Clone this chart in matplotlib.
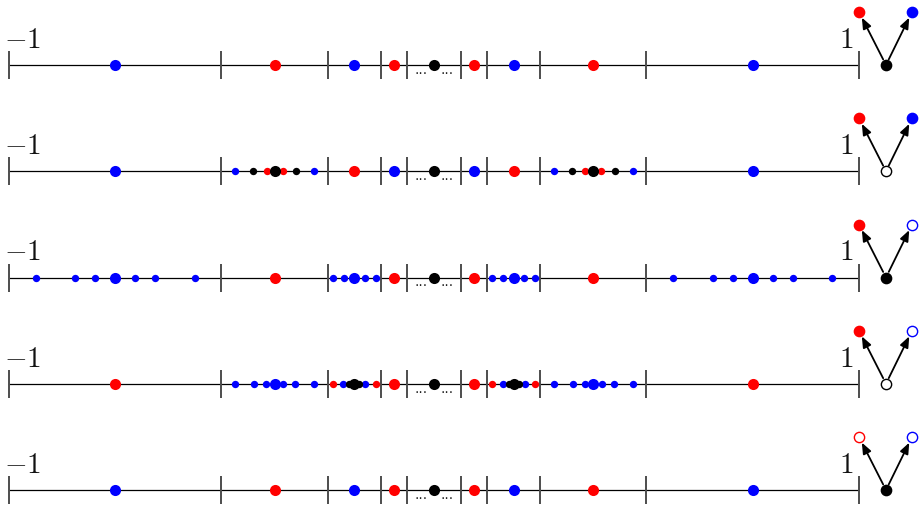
import matplotlib
matplotlib.use("Agg")
import matplotlib.pyplot as plt

plt.rcParams['mathtext.fontset'] = 'cm'

# ---- data ----
ticks = [-1.0, -0.5, -0.25, -0.125, -0.0625, 0.0625, 0.125, 0.25, 0.5, 1.0]
mids = [-0.75, -0.375, -0.1875, -0.09375, 0.0, 0.09375, 0.1875, 0.375, 0.75]
halves = [0.25, 0.125, 0.0625, 0.03125, 0.0625, 0.03125, 0.0625, 0.125, 0.25]

# colour of the large dot at each midpoint, one string per row
row_colors = ["brbrkrbrb",
              "bkrbkbrkb",
              "brbrkrbrb",
              "rbkrkrkbr",
              "brbrkrbrb"]

# clusters of small dots: row -> list of (midpoint index, offsets as fraction of half width, colours)
clusters_row2 = [(1, [0.74, 0.40, 0.15], "bkr"), (7, [0.74, 0.40, 0.15], "bkr")]
clusters_row3 = [(0, [0.75, 0.375, 0.19], "bbb"), (8, [0.75, 0.375, 0.19], "bbb"),
                 (2, [0.80, 0.40], "bb"), (6, [0.80, 0.40], "bb")]
clusters_row4 = [(1, [0.75, 0.39, 0.16], "bbb"), (7, [0.75, 0.39, 0.16], "bbb"),
                 (2, [0.80, 0.41, 0.19], "rbk"), (6, [0.80, 0.41, 0.19], "rbk")]
row_clusters = [[], clusters_row2, clusters_row3, clusters_row4, []]

# tree node fill state: (bottom, left red, right blue); 1 = filled, 0 = hollow
tree_fill = [(1, 1, 1), (0, 1, 1), (1, 1, 0), (0, 1, 0), (1, 0, 0)]

end_labels = [r"$-1$", r"$1$"]

# ---- style ----
cmap = {'b': '#0000ff', 'r': '#ff0000', 'k': '#000000'}
BIG = 8.0
SMALL = 5.3
NODE = 7.4

fig = plt.figure(figsize=(9.2, 5.06), dpi=100)
ax = fig.add_axes([0, 0, 1, 1])
ax.set_xlim(-434 / 425, (920 - 434) / 425)
ax.set_ylim((506 - 66) / 106.25, -66 / 106.25)
ax.axis('off')

px = 1 / 425.0      # one pixel in x data units
py = 1 / 106.25     # one pixel in y data units

for r in range(5):
    y = r
    # main line
    ax.plot([ticks[0], ticks[-1]], [y, y], color='black', lw=0.9, zorder=1, solid_capstyle='butt')
    # ticks
    for t in ticks:
        ax.plot([t, t], [y - 14 * py, y + 14 * py], color='#4d4d4d', lw=1.4, zorder=1,
                solid_capstyle='butt')
    # ellipses near the centre
    for xc in (ticks[4] / 2, ticks[5] / 2):
        ax.text(xc, y + 8 * py, "...", fontsize=10, ha='center', va='baseline',
                color='#222222', family='DejaVu Sans', zorder=2)
    # clusters of small dots
    for idx, offs, cols in row_clusters[r]:
        c0, h = mids[idx], halves[idx]
        for o, c in zip(offs, cols):
            for s in (-1, 1):
                ax.plot(c0 + s * o * h, y, 'o', ms=SMALL, color=cmap[c], mec='none', zorder=3)
    # large dots
    for m, c in zip(mids, row_colors[r]):
        ax.plot(m, y, 'o', ms=BIG, color=cmap[c], mec='none', zorder=4)
    # end labels
    ax.text(ticks[0] - 5 * px, y - 18 * py, end_labels[0], fontsize=21, ha='left',
            va='baseline', color='#111111')
    ax.text(ticks[-1] - 13 * px, y - 18 * py, end_labels[1], fontsize=21, ha='center',
            va='baseline', color='#111111')
    # tree on the right
    bx, by = ticks[-1] + 27 * px, y
    lx, rx, ty = ticks[-1], ticks[-1] + 53 * px, y - 53 * py
    for (tx, tyy) in ((lx, ty), (rx, ty)):
        ax.annotate("", xy=(tx, tyy), xytext=(bx, by),
                    arrowprops=dict(arrowstyle='-|>,head_length=0.5,head_width=0.2',
                                    color='black', lw=1.3,
                                    shrinkA=4.5, shrinkB=4.5, mutation_scale=13),
                    zorder=5)
    fb, fl, fr = tree_fill[r]
    for (nx, ny, c, f) in ((bx, by, 'k', fb), (lx, ty, 'r', fl), (rx, ty, 'b', fr)):
        ax.plot(nx, ny, 'o', ms=NODE, mfc=cmap[c] if f else 'white', mec=cmap[c],
                mew=1.0, zorder=6)

fig.savefig("out.png", dpi=100)
